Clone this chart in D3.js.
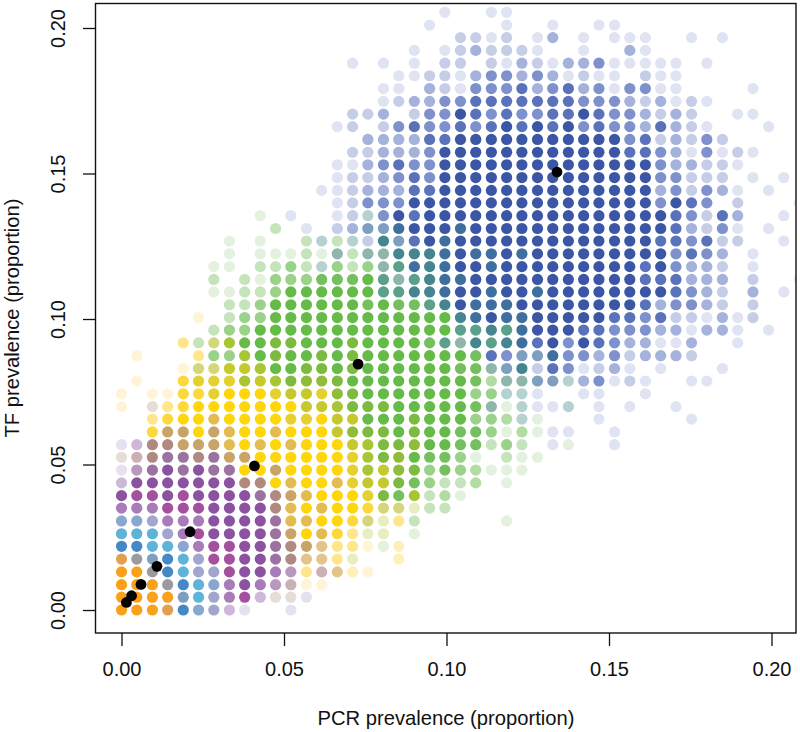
<!DOCTYPE html>
<html><head><meta charset="utf-8">
<style>html,body{margin:0;padding:0;background:#fff}svg{display:block}text{font-family:"Liberation Sans",Arial,sans-serif;fill:#111}</style>
<script src="https://cdn.jsdelivr.net/npm/d3@7/dist/d3.min.js"></script>
</head><body><svg id="c" width="800" height="732"></svg>
<script>
const pcrValues=[0,.0047,.0095,.0142,.0190,.0237,.0284,.0332,.0379,.0427,.0474,.0521,.0569,.0616,.0664,.0711,.0758,.0806,.0853,.0901,.0948,.0995,.1043,.1090,.1138,.1185,.1232,.1280,.1327,.1375,.1422,.1469,.1517,.1564,.1612,.1659,.1706,.1754,.1801,.1849,.1896,.1943,.1991,.2038,.2086];
const tfValues=[0,.0044,.0087,.0131,.0175,.0219,.0262,.0306,.0350,.0393,.0437,.0481,.0525,.0568,.0612,.0656,.0699,.0743,.0787,.0830,.0874,.0918,.0962,.1005,.1049,.1093,.1136,.1180,.1224,.1268,.1311,.1355,.1399,.1442,.1486,.1530,.1573,.1617,.1661,.1704,.1748,.1792,.1836,.1879,.1923,.1967,.2010,.2054];
const tickLabels=[0,.05,.10,.15,.20];
const meanPcr=[.0015,.0031,.0060,.0109,.0211,.0409,.0728,.1340];
const meanTf=[.0026,.0049,.0088,.0150,.0269,.0495,.0845,.1505];
const cellCodes="abcdefghijklmnopqrstuvwxyzABCDEFGHIJKLMNOPQRSTUVWX";
const cellColors=["#e0e4f2","#c6cee7","#a5b2db","#7f91cc","#5a72ba","#3c56a6","#e3f1de","#c6e4bb","#9ad28a","#64bb47","#7cba40","#8fbd3a","#a8c534","#c5c92e","#fff5d6","#ffe68a","#fcd83a","#ffd50b","#e4d02e","#e3bb50","#b6d2d0","#8fb6ab","#5aa08a","#44858f","#3f6f9f","#7f9fc0","#e6e0f0","#cdb8da","#a87cb8","#8c52a2","#a5509f","#9c72a0","#b08a80","#c9a468","#f9a11b","#e0a050","#4488c6","#5eb4d8","#88a8d0","#a0a6ce","#9a9aa0","#e6dcd8","#d5d67a","#e3c48a","#e9eec0","#fff0b8","#cbb0b4","#74c05e","#b2dca2","#b898bc"];
// one string per TF level, lowest first; one letter per PCR level ('.' = no cell)
const cellRows=[
"IIIJK MNBA. .A...",
"IIIIz LNCEB PPA..",
"IIIOK LMCDC XUoo.",
"IIOKL NNEDD CXpUR To...",
"JOzKL NEEDD FGRRp S..T.",
"KKLLM CEEDD FGHRp pogT.",
"LLLNC EDDDD FHrtq pSS.g",
"MMNCC CDDDD Fttrr qQSph ..... g....",
"CCCEE EDDDD Gtrtr rqQQS hh...",
"DEEDE DDDDF GHtrr rskVm hWg..",
"BDDDD DDDGG rtrrt snnkV ihhW. g....",
"AXFDF DFFrr Hrrrr smnlk iViWg gg...",
"PUGFF GFHHr rrrrr smklj VVig. hgg..",
"ABGGH HHtrt rtrrr nmkkl jjVVh ih.ag ..a..",
"..qHH rHtrr trrrn lkkjk jjVVi gWgaa ..a..",
"..pqr rtrrr rssrn njjjk jjjii Wug.. .a... ..a..",
"o.Ppq rrrrr rrnnm kkkjj jjjVv guaau .a.a. .a...",
"o.ooq qsrrr snnsl kjjjj jjjii uua.. aa..a",
".o..q sssmn mkllk jjjjj jjjVW vvzzu cdaba ..aa.",
"....o QQnnm jjkkj kjjjj jjVVv zxbed abca. a...a",
".o... piimj kjjkj kjjjj jjjVe dzzyd dcdbc ccb..",
"....p hQmjj kkjjj kjjjj Vwvxw xyefd fedcc aac.. a....",
"..... .hiij jjjjj jjjjj jjwwx wyfff eeddd ccacc a.a..",
"..... o.hii jjjjj jjjjj jjxyf yyfff ffeed ebbac ab...",
"..... ..hhi jjjjj jVjVV wxfyy yffff ffffe cddcb .b...",
"..... .gghh ijjjj jjwwx xyffy ffyff fffff fedcb .c.a.",
"..... .h.hg iiiVV Vjwvw xyyff fffff ffffe eeccc .b..a",
"..... .gg.h hihui hivwy xyffy fffff ffffe fdccb .a...",
"..... ..g.g gghgv hvvxx xyfyy fyfff fffff fdedc .a...",
"..... ..g.g ..huh ubxze fyfff fffff fffff eedeb b..a.",
"..... ..... h.a.b czzyf ffyff fffff fffff fecbd a.a..",
"..... ....g .a..a budfe fffff fffff fffff fedbe c..a.",
"..... ..... ....a bdddf fffff fffff fffff dfed. b...a",
"..... ..... ...aa bccce effff fffff fffff cdbdc a.a..",
"..... ..... ....a bbcde dffff fffff fffff ddbbb .a.a.",
"..... ..... ....a acded dffff fffff fffff dccbb a....",
"..... ..... ..... bbccc dffff fffff fffee dcada ba...",
"..... ..... ..... .cccc eefff fffff fffde bcbdb",
"..... ..... ....a b.bde ddede fefef deddc ecba. ..a..",
"..... ..... ..... bbc.b ddfed eddee feddc bcb.. aa...",
"..... ..... ..... ..abc cddee eeeee dddcb caba.",
"..... ..... ..... ..aa. cbadd decde cdadd aa... .a...",
"..... ..... ..... ...aa bbacd dcdca baa.b aa...",
"..... ..... ..... a.a.a .bb.b acbac cdaaa aa.a.",
"..... ..... ..... ....a .abcb bba.. a..ca",
"..... ..... ..... ..... ..bba b.ac. a.aaa ..a.a",
"..... ..... ..... ..... a.... a..a. .aa..",
"..... ..... ..... ..... .a..a a...."
];
const x=d3.scaleLinear().domain([-.00785,.20754]).range([96,796]);
const y=d3.scaleLinear().domain([-.0079,.20825]).range([633,4]);
const colorOf=d3.scaleOrdinal().domain(cellCodes.split("")).range(cellColors);
const cells=[];
cellRows.forEach((s,r)=>{s.replace(/ /g,"").split("").forEach((ch,c)=>{if(ch!==".")cells.push({pcr:pcrValues[c],tf:tfValues[r],ch});});});
const svg=d3.select("#c");
svg.append("defs").append("clipPath").attr("id","plot").append("rect").attr("x",96).attr("y",4).attr("width",700).attr("height",629);
svg.append("g").attr("clip-path","url(#plot)").selectAll("circle").data(cells).join("circle")
 .attr("cx",d=>x(d.pcr)).attr("cy",d=>y(d.tf)).attr("r",5.6).attr("fill",d=>colorOf(d.ch));
svg.append("g").selectAll("circle").data(meanPcr).join("circle")
 .attr("cx",d=>x(d)).attr("cy",(d,i)=>y(meanTf[i])).attr("r",5.4).attr("fill","#000");
svg.append("rect").attr("x",95.5).attr("y",3.5).attr("width",700.5).attr("height",629.5).attr("fill","none").attr("stroke","#111").attr("stroke-width",1.4);
const fmt=d3.format(".2f");
const gx=svg.append("g").attr("transform","translate(0,633)").call(d3.axisBottom(x).tickValues(tickLabels).tickFormat(fmt).tickSize(13).tickPadding(16));
gx.select(".domain").remove();
gx.selectAll("line").attr("stroke","#111").attr("stroke-width",1.3);
gx.selectAll("text").attr("font-size",20).attr("fill","#111").style("font-family",'"Liberation Sans"');
const gy=svg.append("g").attr("transform","translate(96,0)").call(d3.axisLeft(y).tickValues(tickLabels).tickFormat(fmt).tickSize(13));
gy.select(".domain").remove();
gy.selectAll("line").attr("stroke","#111").attr("stroke-width",1.3);
gy.selectAll("text").attr("font-size",20).attr("fill","#111").style("font-family",'"Liberation Sans"')
 .attr("text-anchor","middle").attr("dy",0).attr("x",0).attr("y",0).attr("transform","translate(-31,0) rotate(-90)");
svg.append("text").attr("x",446).attr("y",725).attr("text-anchor","middle").attr("font-size",20.2).text("PCR prevalence (proportion)");
svg.append("text").attr("transform","translate(19,318) rotate(-90)").attr("text-anchor","middle").attr("font-size",20.2).text("TF prevalence (proportion)");
</script></body></html>
